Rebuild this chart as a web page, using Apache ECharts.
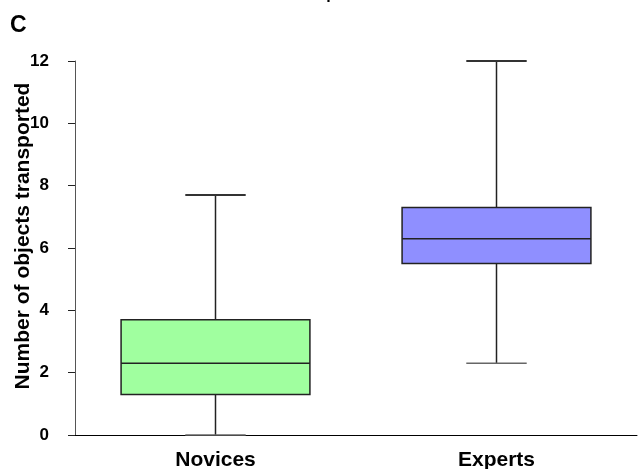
<!DOCTYPE html>
<html>
<head>
<meta charset="utf-8">
<script src="https://cdn.jsdelivr.net/npm/echarts@6/dist/echarts.min.js"></script>
<style>html,body{margin:0;padding:0;background:#fff}#c{width:639px;height:469px}</style>
</head>
<body>
<div id="c"></div>
<script>
var categories = ['Novices', 'Experts'];
var lowerWhisker = [0, 2.3];
var q1 = [1.3, 5.5];
var median = [2.3, 6.3];
var q3 = [3.7, 7.3];
var upperWhisker = [7.7, 12];
var boxColors = ['#a0ff9f', '#8f8fff'];
var yTicks = [0, 2, 4, 6, 8, 10, 12];
var yTitle = 'Number of objects transported';

var data = categories.map(function (c, i) {
  return [i, lowerWhisker[i], q1[i], median[i], q3[i], upperWhisker[i]];
});

var chart = echarts.init(document.getElementById('c'));
var font = '"Liberation Sans", Arial, sans-serif';
chart.setOption({
  animation: false,
  textStyle: { fontFamily: font },
  graphic: [
    { type: 'text', left: 10, top: 14, style: { text: 'C', font: 'bold 23px ' + font, fill: '#000' } },
    { type: 'text', x: 357, y: -13, style: { text: 'Experiment 3', font: 'bold 16px ' + font, fill: '#000', align: 'center' } },
    { type: 'text', x: 23, y: 236, rotation: Math.PI / 2,
      style: { text: yTitle, font: 'bold 21px ' + font, fill: '#000', align: 'center', verticalAlign: 'middle' } }
  ],
  grid: { left: 75, right: 2, top: 61, bottom: 34, containLabel: false, outerBoundsMode: 'none' },
  xAxis: {
    type: 'category',
    data: categories,
    axisLine: { lineStyle: { color: '#000', width: 1 } },
    axisTick: { show: false },
    axisLabel: { margin: 15, color: '#000', fontWeight: 'bold', fontSize: 21, fontFamily: font }
  },
  yAxis: {
    type: 'value',
    min: 0, max: 12, interval: 2,
    axisLine: { show: true, lineStyle: { color: '#555', width: 1 } },
    axisTick: { show: true, length: 7, lineStyle: { color: '#222' } },
    splitLine: { show: false },
    axisLabel: {
      margin: 26, color: '#000', fontWeight: 'bold', fontSize: 17, fontFamily: font,
      formatter: function (v) { return yTicks.indexOf(v) >= 0 ? String(v) : ''; }
    }
  },
  series: [{
    type: 'custom',
    data: data,
    encode: { x: 0, y: [1, 2, 3, 4, 5] },
    renderItem: function (params, api) {
      var i = api.value(0);
      var band = api.size([1, 0])[0];
      var bw = band * 0.672;
      var cw = band * 0.215;
      var pLow = api.coord([i, api.value(1)]);
      var pQ1 = api.coord([i, api.value(2)]);
      var pMed = api.coord([i, api.value(3)]);
      var pQ3 = api.coord([i, api.value(4)]);
      var pHigh = api.coord([i, api.value(5)]);
      var x = pLow[0];
      var ls = { stroke: '#222', lineWidth: 1.5 };
      return {
        type: 'group',
        children: [
          { type: 'line', shape: { x1: x, y1: pQ3[1], x2: x, y2: pHigh[1] }, style: ls },
          { type: 'line', shape: { x1: x, y1: pQ1[1], x2: x, y2: pLow[1] }, style: ls },
          { type: 'line', shape: { x1: x - cw / 2, y1: pHigh[1], x2: x + cw / 2, y2: pHigh[1] }, style: { stroke: '#333', lineWidth: 2 } },
          { type: 'line', shape: { x1: x - cw / 2, y1: pLow[1], x2: x + cw / 2, y2: pLow[1] }, style: { stroke: '#666', lineWidth: 1.5 } },
          { type: 'rect', shape: { x: x - bw / 2, y: pQ3[1], width: bw, height: pQ1[1] - pQ3[1] },
            style: { fill: boxColors[i], stroke: '#222', lineWidth: 1.5 } },
          { type: 'line', shape: { x1: x - bw / 2, y1: pMed[1], x2: x + bw / 2, y2: pMed[1] }, style: { stroke: '#222', lineWidth: 1.5 } }
        ]
      };
    }
  }]
});
</script>
</body>
</html>
